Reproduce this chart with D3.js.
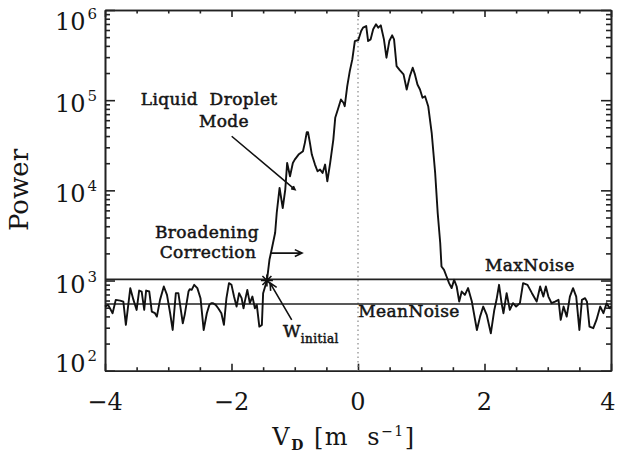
<!DOCTYPE html>
<html>
<head>
<meta charset="utf-8">
<script src="https://cdn.jsdelivr.net/npm/d3@7"></script>
<style>
  body { margin: 0; background: #fff; }
  text { font-family: "DejaVu Serif", serif; fill: #151515; }
</style>
</head>
<body>
<div id="chart"></div>
<script>
// Doppler spectrum
const vel = [-4.00,-3.95,-3.88,-3.83,-3.76,-3.71,-3.67,-3.60,-3.55,-3.50,-3.46,-3.42,-3.38,-3.35,-3.30,-3.26,-3.21,-3.18,-3.13,-3.07,-3.02,-2.97,-2.93,-2.88,-2.84,-2.77,-2.74,-2.68,-2.66,-2.63,-2.59,-2.54,-2.49,-2.44,-2.39,-2.35,-2.32,-2.29,-2.25,-2.21,-2.16,-2.12,-2.08,-2.04,-2.00,-1.96,-1.92,-1.88,-1.84,-1.81,-1.79,-1.75,-1.71,-1.67,-1.63,-1.60,-1.56,-1.52,-1.50,
  -1.44,-1.40,-1.36,-1.31,-1.285,-1.24,-1.19,-1.15,-1.12,-1.075,-1.03,-1.00,-0.94,-0.87,-0.84,-0.81,-0.79,-0.76,-0.73,-0.68,-0.64,-0.60,-0.56,-0.52,-0.485,-0.44,-0.39,-0.36,-0.31,-0.27,-0.23,-0.21,-0.17,-0.13,-0.09,-0.05,0.005,0.05,0.08,0.13,0.16,0.20,0.24,0.285,0.32,0.36,0.41,0.45,0.495,0.54,0.57,0.61,0.66,0.72,0.77,0.82,0.865,0.90,0.94,0.98,1.02,1.06,1.11,1.165,1.22,1.26,1.30,1.32,1.36,1.40,1.44,1.48,1.52,1.56,1.60,1.64,1.69,1.74,1.80,1.88,1.93,1.98,2.035,2.10,2.155,2.19,2.23,2.27,2.30,2.35,2.40,2.45,2.50,2.56,2.61,2.68,2.75,2.825,2.88,2.93,2.97,3.01,3.06,3.115,3.17,3.205,3.25,3.30,3.35,3.40,3.45,3.50,3.54,3.59,3.62,3.66,3.72,3.77,3.83,3.88,3.93,3.98,4.00];
const power = [514,537,434,610,599,584,322,823,610,472,774,755,472,774,755,453,434,398,610,858,694,434,283,724,724,336,416,755,802,788,896,823,637,283,434,537,561,561,537,493,434,322,637,936,896,664,514,724,637,493,584,788,561,664,493,537,308,322,724,
  1000,1698,2291,3388,5610,10640,6370,10190,20140,14310,20140,21930,24930,27120,33620,44100,44100,33620,24930,19320,16270,16980,15600,19320,12600,20140,36560,63700,82400,101800,93600,85800,143100,210000,283200,452600,464500,584900,637400,664100,452600,472600,610300,693800,637400,676100,472600,295800,452600,523600,472600,238800,215400,193100,131500,184700,229000,193100,149300,131500,106400,110700,85800,43500,15600,5610,2606,1430,1315,1108,935,824,1018,858,584,755,693,824,584,283,398,514,416,260,472,611,896,561,434,724,472,561,514,561,935,896,724,584,858,664,858,664,561,584,611,366,514,398,664,824,664,283,611,637,584,308,296,366,514,434,561,493,520];

const maxNoise = 1030;
const meanNoise = 550;
const wInitial = {v: -1.44, p: 1000};

const xTicks = [-4, -2, 0, 2, 4];
const xTickLabels = ["\u22124", "\u22122", "0", "2", "4"];
const yDecades = [2, 3, 4, 5, 6];

const W = 617, H = 455;

const svg = d3.select("#chart").append("svg")
  .attr("width", W)
  .attr("height", H);

const x = d3.scaleLinear().domain([-4, 4]).range([105, 611]);
const y = d3.scaleLog().domain([100, 1e6]).range([370.7, 10]);

const majY = yDecades.map(d => Math.pow(10, d));
const minY = [];
yDecades.slice(0, -1).forEach(d => {
  for (let m = 2; m <= 9; m++) minY.push(m * Math.pow(10, d));
});
const minX = d3.range(-4, 4.001, 0.5).filter(v => !xTicks.includes(v));

function styleAxis(g) {
  g.selectAll("path, line").attr("stroke", "#222").attr("stroke-width", 1.6);
  g.selectAll("text").remove();
}

// bottom + top
[["axisBottom", 370.7], ["axisTop", 10]].forEach(([fn, ty]) => {
  svg.append("g").attr("transform", `translate(0,${ty})`)
    .call(d3[fn](x).tickValues(xTicks).tickSizeInner(-7).tickSizeOuter(0))
    .call(styleAxis);
  svg.append("g").attr("transform", `translate(0,${ty})`)
    .call(d3[fn](x).tickValues(minX).tickSizeInner(-3.5).tickSizeOuter(0))
    .call(styleAxis);
});
// left + right
[["axisLeft", 105], ["axisRight", 611]].forEach(([fn, tx]) => {
  svg.append("g").attr("transform", `translate(${tx},0)`)
    .call(d3[fn](y).tickValues(majY).tickSizeInner(-10).tickSizeOuter(0))
    .call(styleAxis);
  svg.append("g").attr("transform", `translate(${tx},0)`)
    .call(d3[fn](y).tickValues(minY).tickSizeInner(-5).tickSizeOuter(0))
    .call(styleAxis);
});

// tick labels
svg.append("g").selectAll("text")
  .data(xTicks)
  .join("text")
  .attr("x", d => Math.min(x(d), W - 9))
  .attr("y", 410)
  .attr("text-anchor", "middle")
  .attr("font-size", 24)
  .text((d, i) => xTickLabels[i]);

const yl = svg.append("g").selectAll("text")
  .data(yDecades)
  .join("text")
  .attr("x", 97)
  .attr("y", d => Math.min(372, Math.max(30, y(Math.pow(10, d)) + 12)))
  .attr("text-anchor", "end")
  .attr("font-size", 24);
yl.append("tspan").text("10");
yl.append("tspan").attr("font-size", 15).attr("dy", -11).attr("dx", 2).text(d => d);

// axis titles
svg.append("text")
  .attr("transform", "translate(28,190) rotate(-90)")
  .attr("text-anchor", "middle")
  .attr("font-size", 26)
  .text("Power");

const xt = svg.append("text")
  .attr("x", x(0) - 14)
  .attr("y", 445)
  .attr("text-anchor", "middle")
  .attr("font-size", 24)
  .attr("letter-spacing", 1.5)
  .style("white-space", "pre");
xt.append("tspan").text("V");
xt.append("tspan").attr("font-size", 14).attr("font-weight", "bold").attr("dy", 5).text("D");
xt.append("tspan").attr("dy", -5).text(" [m  s");
xt.append("tspan").attr("font-size", 14).attr("dy", -9).text("\u22121");
xt.append("tspan").attr("dy", 9).text("]");

// zero line
svg.append("line")
  .attr("x1", x(0)).attr("x2", x(0))
  .attr("y1", y(1e6)).attr("y2", y(100))
  .attr("stroke", "#888")
  .attr("stroke-width", 1.2)
  .attr("stroke-dasharray", "1.5,3");

// noise levels
[maxNoise, meanNoise].forEach(n => {
  svg.append("line")
    .attr("x1", x(-4)).attr("x2", x(4))
    .attr("y1", y(n)).attr("y2", y(n))
    .attr("stroke", "#222")
    .attr("stroke-width", 1.6);
});

// spectrum
const pts = vel.map((v, i) => ({v: v, p: power[i]}));
svg.append("path")
  .datum(pts)
  .attr("fill", "none")
  .attr("stroke", "#111")
  .attr("stroke-width", 1.9)
  .attr("stroke-linejoin", "round")
  .attr("d", d3.line().x(d => x(d.v)).y(d => y(d.p)));

// W_initial star
const sx = x(wInitial.v), sy = y(wInitial.p), r = 6;
svg.append("path")
  .attr("d", `M${sx - r},${sy}H${sx + r}M${sx},${sy - r}V${sy + r}` +
    `M${sx - r * 0.75},${sy - r * 0.75}L${sx + r * 0.75},${sy + r * 0.75}` +
    `M${sx - r * 0.75},${sy + r * 0.75}L${sx + r * 0.75},${sy - r * 0.75}`)
  .attr("stroke", "#111")
  .attr("stroke-width", 1.6);

// arrows
function arrow(v1, p1, v2, p2, size) {
  const x1 = x(v1), y1 = y(p1), x2 = x(v2), y2 = y(p2);
  const a = Math.atan2(y2 - y1, x2 - x1);
  const h1 = [x2 - size * Math.cos(a - 0.45), y2 - size * Math.sin(a - 0.45)];
  const h2 = [x2 - size * Math.cos(a + 0.45), y2 - size * Math.sin(a + 0.45)];
  svg.append("path")
    .attr("d", `M${x1},${y1}L${x2},${y2}M${h1[0]},${h1[1]}L${x2},${y2}L${h2[0]},${h2[1]}`)
    .attr("fill", "none")
    .attr("stroke", "#111")
    .attr("stroke-width", 1.6);
}
arrow(-1.997, 39800, -0.996, 10190, 4);
arrow(-1.375, 2015, -0.885, 2015, 8);
arrow(-1.048, 366, -1.391, 942, 8);

// annotation text
function note(v, p, str, anchor) {
  return svg.append("text")
    .attr("x", x(v)).attr("y", y(p))
    .attr("text-anchor", anchor)
    .attr("font-size", 17)
    .attr("stroke", "#151515")
    .attr("stroke-width", 0.5)
    .attr("letter-spacing", 0.4)
    .style("white-space", "pre")
    .text(str);
}
note(-2.353, 89500, "Liquid  Droplet", "middle");
note(-2.119, 49800, "Mode", "middle");
note(-2.387, 2960, "Broadening", "middle");
note(-2.372, 1780, "Correction", "middle");
note(2.008, 1291, "MaxNoise", "start");
note(0.005, 398, "MeanNoise", "start");
const wt = note(-1.186, 237, "W", "start");
wt.append("tspan").attr("font-size", 12).attr("dy", 6).text("initial");
</script>
</body>
</html>
